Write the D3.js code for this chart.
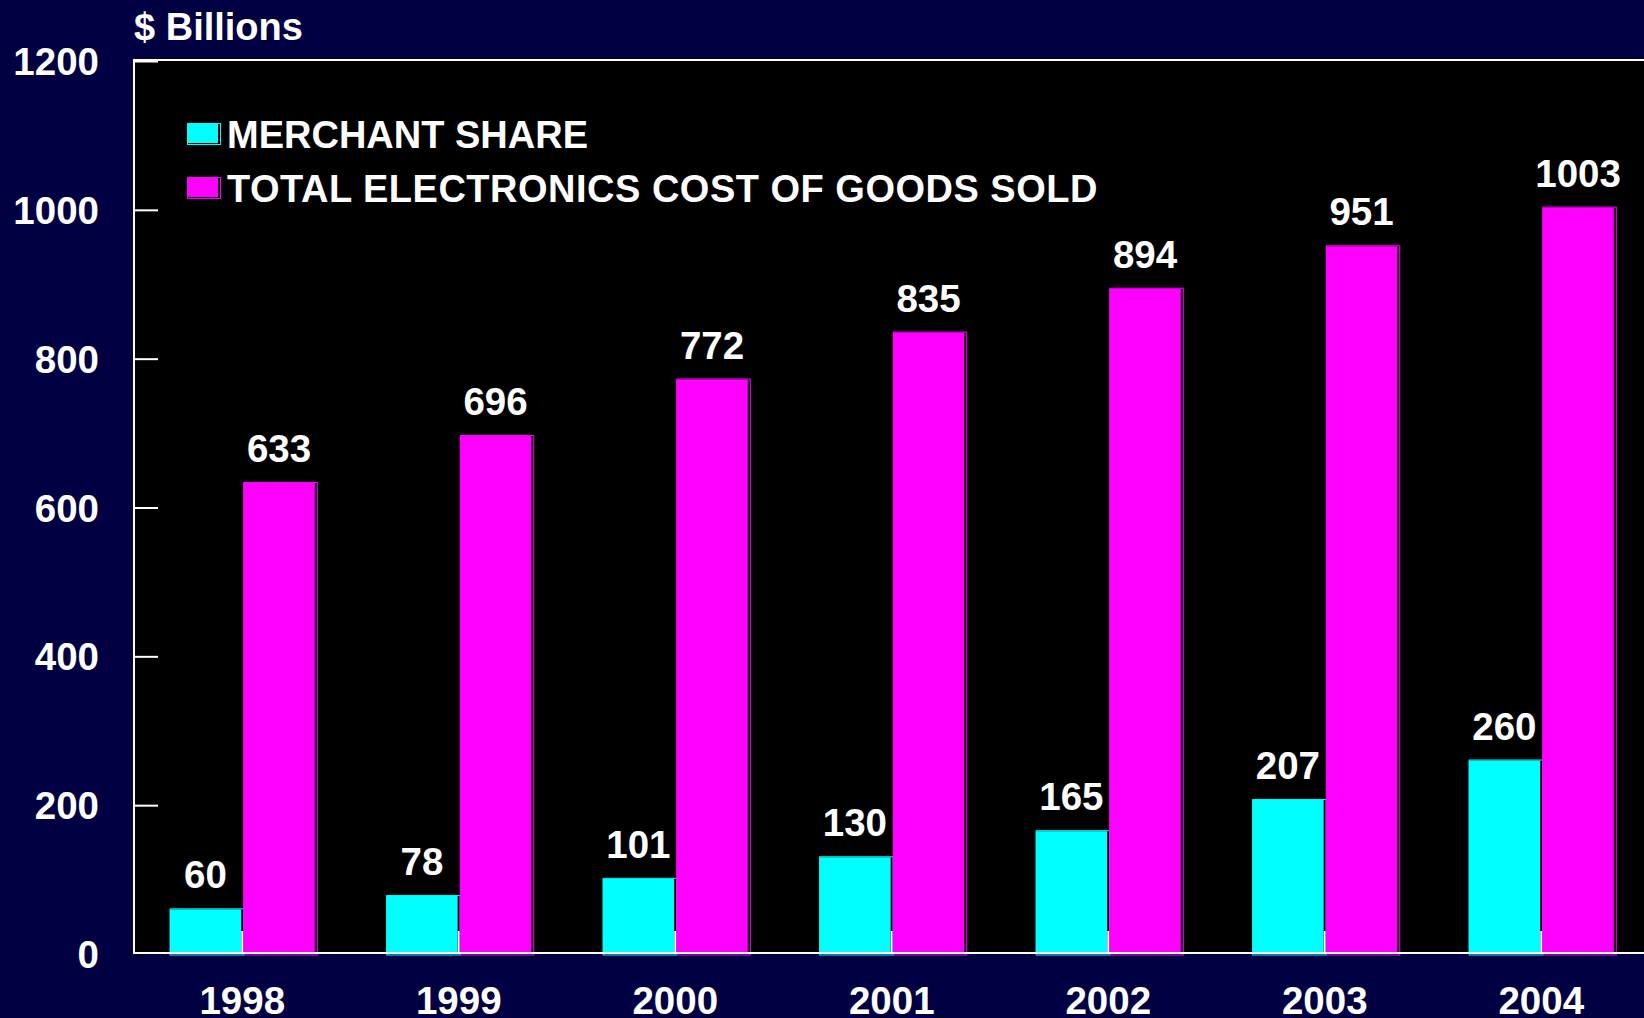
<!DOCTYPE html>
<html>
<head>
<meta charset="utf-8">
<script src="https://cdn.jsdelivr.net/npm/d3@7"></script>
<style>
  html, body { margin: 0; padding: 0; background: #000042; overflow: hidden; }
  text { font-family: "Liberation Sans", Arial, sans-serif; font-weight: bold; fill: #ffffff; }
</style>
</head>
<body>
<script>
// data
var years = ["1998", "1999", "2000", "2001", "2002", "2003", "2004"];
var merchantShare = [60, 78, 101, 130, 165, 207, 260];
var totalCogs = [633, 696, 772, 835, 894, 951, 1003];
var seriesNames = ["MERCHANT SHARE", "TOTAL ELECTRONICS COST OF GOODS SOLD"];
var seriesColors = ["#00ffff", "#ff00ff"];
var yTicks = [0, 200, 400, 600, 800, 1000, 1200];

var width = 1644;
var height = 1018;

// plot box (window.top is taken, so own names)
var plotLeft = 134, plotTop = 60, plotBottom = 953;
var step = 216.5;
var plotRight = plotLeft + years.length * step;

var svg = d3.select("body")
    .append("svg")
    .attr("width", width)
    .attr("height", height);

svg.append("rect")
    .attr("width", width)
    .attr("height", height)
    .attr("fill", "#000042");

// black plot area
svg.append("rect")
    .attr("x", plotLeft)
    .attr("y", plotTop)
    .attr("width", plotRight - plotLeft)
    .attr("height", plotBottom - plotTop)
    .attr("fill", "#000000");

var x = d3.scaleBand()
    .domain(years)
    .range([plotLeft, plotRight])
    .paddingInner(0.33)
    .paddingOuter(0.165);

var xSub = d3.scaleBand()
    .domain([0, 1])
    .range([0, x.bandwidth()])
    .paddingInner(0.03);

var y = d3.scaleLinear()
    .domain([0, 1200])
    .range([plotBottom + 1, plotTop + 1]);

// y axis, ticks pointing inward
var yAxis = d3.axisRight(y)
    .tickValues(yTicks.slice(1))
    .tickSize(24)
    .tickFormat("");
var gy = svg.append("g")
    .attr("transform", "translate(" + plotLeft + ",0)")
    .call(yAxis);
gy.select(".domain").remove();
gy.selectAll("line").attr("stroke", "#ffffff").attr("stroke-width", 2);

svg.selectAll(".ylabel")
    .data(yTicks)
    .enter()
    .append("text")
    .attr("class", "ylabel")
    .attr("x", 99)
    .attr("y", function(d) { return y(d) + 14; })
    .attr("text-anchor", "end")
    .style("font-size", "38.5px")
    .text(function(d) { return d; });

// x axis ticks pointing up, at category centres
var xAxis = d3.axisTop(x)
    .tickSize(22)
    .tickFormat("");
var gx = svg.append("g")
    .attr("transform", "translate(0," + plotBottom + ")")
    .call(xAxis);
gx.select(".domain").remove();
gx.selectAll("line").attr("stroke", "#ffffff").attr("stroke-width", 2);

svg.selectAll(".xlabel")
    .data(years)
    .enter()
    .append("text")
    .attr("class", "xlabel")
    .attr("x", function(d) { return x(d) + x.bandwidth() / 2; })
    .attr("y", 1014)
    .attr("text-anchor", "middle")
    .style("font-size", "38.5px")
    .text(function(d) { return d; });

// bars
var rows = [];
years.forEach(function(yr, i) {
    rows.push({ year: yr, s: 0, value: merchantShare[i] });
    rows.push({ year: yr, s: 1, value: totalCogs[i] });
});

var bar = svg.selectAll(".bar")
    .data(rows)
    .enter()
    .append("g")
    .attr("class", "bar");

// thin offset outline, like the old 3d shadow
bar.append("rect")
    .attr("x", function(d) { return x(d.year) + xSub(d.s) + 0.5; })
    .attr("y", function(d) { return y(d.value) - 0.5; })
    .attr("width", xSub.bandwidth() + 2)
    .attr("height", function(d) { return y(0) - y(d.value) + 1.5; })
    .attr("fill", "none")
    .attr("stroke", function(d) { return seriesColors[d.s]; })
    .attr("stroke-width", 1);

bar.append("rect")
    .attr("x", function(d) { return x(d.year) + xSub(d.s); })
    .attr("y", function(d) { return y(d.value); })
    .attr("width", xSub.bandwidth())
    .attr("height", function(d) { return y(0) - y(d.value); })
    .attr("fill", function(d) { return seriesColors[d.s]; });

bar.append("text")
    .attr("x", function(d) { return x(d.year) + xSub(d.s) + xSub.bandwidth() / 2; })
    .attr("y", function(d) { return y(d.value) - 21; })
    .attr("text-anchor", "middle")
    .style("font-size", "38.5px")
    .text(function(d) { return d.value; });

// frame: top, left and bottom lines
svg.append("line")
    .attr("x1", plotLeft).attr("x2", width)
    .attr("y1", plotTop).attr("y2", plotTop)
    .attr("stroke", "#ffffff").attr("stroke-width", 2);
svg.append("line")
    .attr("x1", plotLeft).attr("x2", plotLeft)
    .attr("y1", plotTop - 1).attr("y2", plotBottom + 1)
    .attr("stroke", "#ffffff").attr("stroke-width", 2);
svg.append("line")
    .attr("x1", plotLeft).attr("x2", width)
    .attr("y1", plotBottom).attr("y2", plotBottom)
    .attr("stroke", "#ffffff").attr("stroke-width", 2);

// unit title
svg.append("text")
    .attr("x", 134)
    .attr("y", 40)
    .style("font-size", "38px")
    .text("$ Billions");

// legend
var legend = svg.selectAll(".legend")
    .data(seriesNames)
    .enter()
    .append("g")
    .attr("class", "legend")
    .attr("transform", function(d, i) { return "translate(187," + (123 + i * 54) + ")"; });

legend.append("rect")
    .attr("x", 0.5)
    .attr("y", 0.5)
    .attr("width", 33)
    .attr("height", 21)
    .attr("fill", "none")
    .attr("stroke", function(d, i) { return seriesColors[i]; })
    .attr("stroke-width", 1);

legend.append("rect")
    .attr("width", 31)
    .attr("height", 20)
    .attr("fill", function(d, i) { return seriesColors[i]; });

legend.append("text")
    .attr("x", 40)
    .attr("y", 25)
    .style("font-size", "38px")
    .style("letter-spacing", function(d, i) { return i ? "0.5px" : "0px"; })
    .text(function(d) { return d; });
</script>
</body>
</html>
